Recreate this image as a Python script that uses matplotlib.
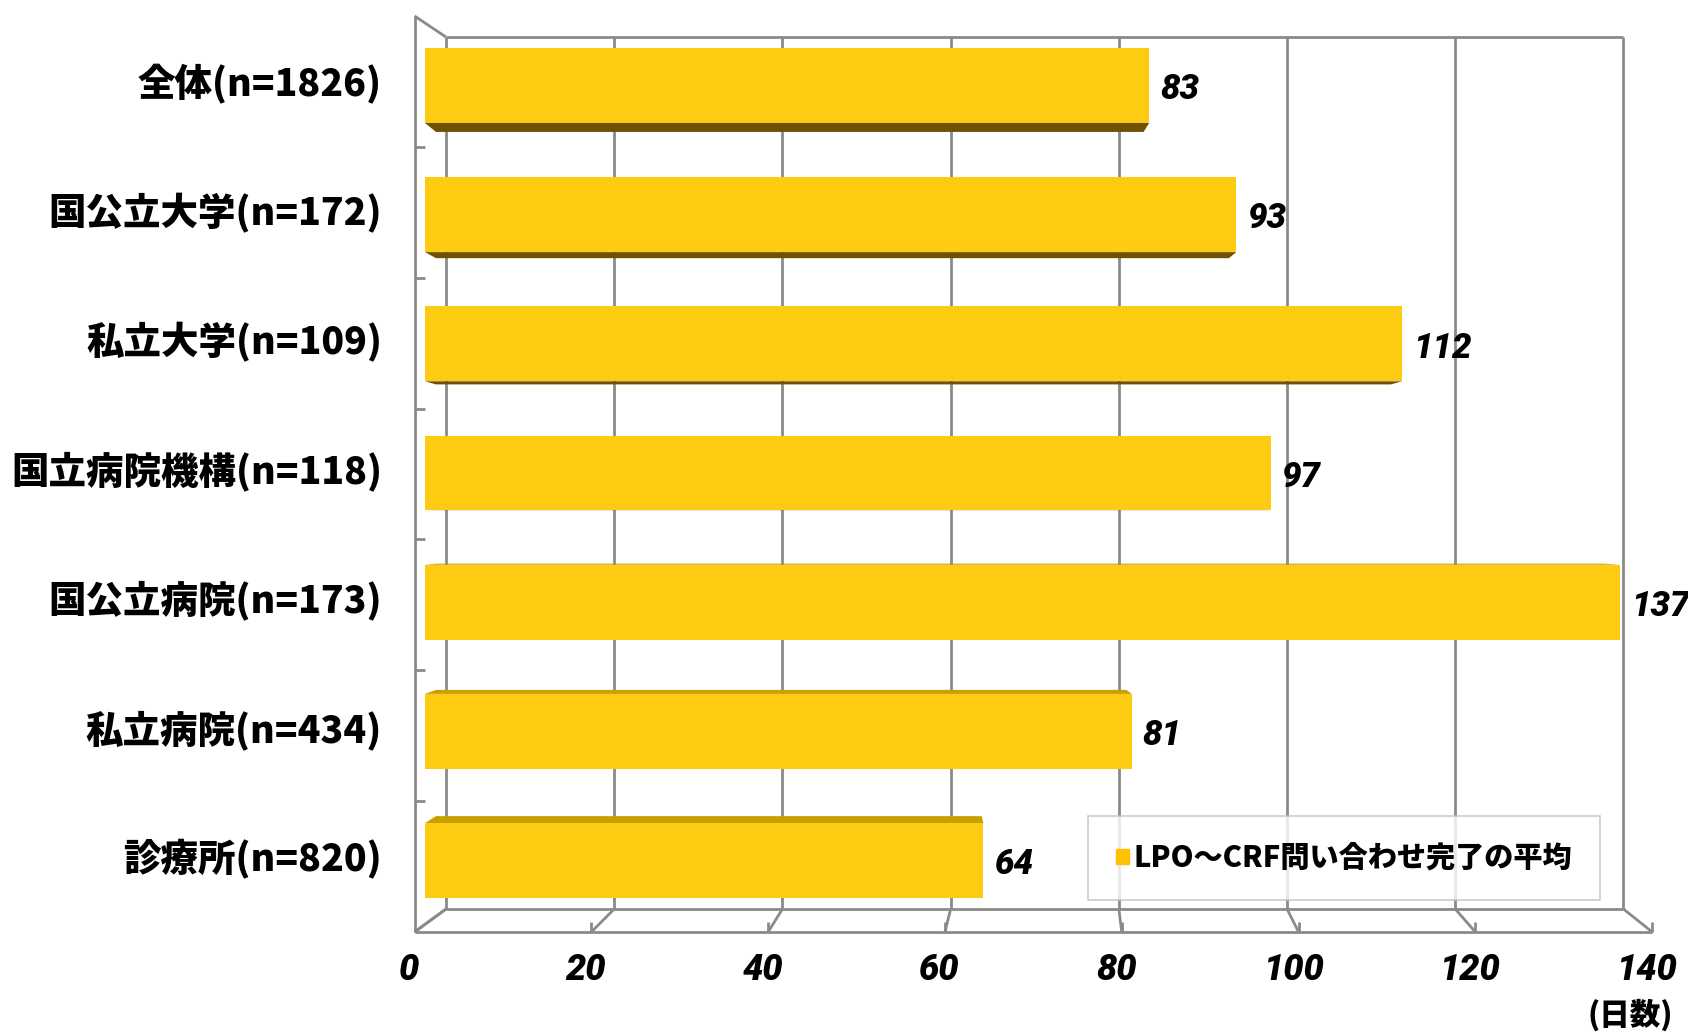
import matplotlib
matplotlib.use("Agg")
import matplotlib.pyplot as plt
from matplotlib.patches import Patch

# データ
categories = ["全体(n=1826)", "国公立大学(n=172)", "私立大学(n=109)", "国立病院機構(n=118)",
              "国公立病院(n=173)", "私立病院(n=434)", "診療所(n=820)"]
values = [83, 93, 112, 97, 137, 81, 64]
xticks = [0, 20, 40, 60, 80, 100, 120, 140]
legend_label = "LPO～CRF問い合わせ完了の平均"
unit_label = "(日数)"

CJK = ["Noto Sans CJK JP", "DejaVu Sans"]
NUM = ["Roboto", "DejaVu Sans"]
grid_c = "#8a8a8a"
bar_c = "#FDCB12"
under_c = "#6E5200"
top_c = "#C9A000"

W, H = 1688, 1032
fig = plt.figure(figsize=(W / 100, H / 100), dpi=100)
# 棒の前面 x: 0 -> 425px, 140 -> 1646px / 奥行き枠 16px..932px
ax = fig.add_axes([425 / W, (H - 932) / H, 1221.4 / W, 916 / H])
ax.set_xlim(0, 140)
ax.set_ylim(6.553, -0.538)
ax.axis("off")

# 3D枠（前面・背面の平面）
def front_x(v):
    return -1.2 + 1.0133 * v

def back_x(v):
    return 2.41 + 0.964 * v

yt_f, yb_f = -0.538, 6.553
yt_b, yb_b = -0.375, 6.375
lw = 2.0
kw = dict(color=grid_c, lw=lw, clip_on=False, zorder=1, solid_capstyle="butt")

# 背面の壁とグリッド
for v in xticks:
    ax.plot([back_x(v), back_x(v)], [yt_b, yb_b], **kw)
ax.plot([back_x(0), back_x(140)], [yt_b, yt_b], **kw)
ax.plot([back_x(0), back_x(140)], [yb_b, yb_b], **kw)
# 床
ax.plot([front_x(0), front_x(140)], [yb_f, yb_f], **kw)
for v in xticks:
    ax.plot([front_x(v), back_x(v)], [yb_f, yb_b], **kw)
    if v > 0:
        ax.plot([front_x(v), front_x(v)], [yb_f, yb_f - 0.08], **kw)
# 左の壁
ax.plot([front_x(0), front_x(0)], [yt_f, yb_f], **kw)
ax.plot([front_x(0), back_x(0)], [yt_f, yt_b], **kw)
ax.plot([front_x(0), back_x(0)], [yb_f, yb_b], **kw)
n = len(categories)
for k in range(1, n):
    yk = yt_f + k * (yb_f - yt_f) / n
    ax.plot([front_x(0), 0], [yk, yk], **kw)

# 棒
h = 0.58
bars = ax.barh(range(n), values, height=h, color=bar_c, zorder=3)
vp = (55.25, 3.34)
t = 0.0228
for i, (b, v) in enumerate(zip(bars, values)):
    y_top = i - h / 2
    y_bot = i + h / 2
    if y_bot < vp[1]:
        ye, c = y_bot, under_c
    else:
        ye, c = y_top, top_c
    x0, x1 = 0, v
    bx0 = x0 + t * (vp[0] - x0)
    bx1 = x1 + t * (vp[0] - x1)
    by = ye + t * (vp[1] - ye)
    ax.fill([x0, x1, bx1, bx0], [ye, ye, by, by], color=c, zorder=2, lw=0)
    ax.annotate(str(v), xy=(v, i), xytext=(8, -3), textcoords="offset points",
                ha="left", va="center", fontsize=25, fontweight="heavy",
                style="italic", family=NUM, zorder=5)
    ax.annotate(categories[i], xy=(0, i), xytext=(-31, 1), textcoords="offset points",
                ha="right", va="center", fontsize=27, fontweight="heavy",
                family=CJK, annotation_clip=False)

# x目盛ラベル
for v in xticks:
    ax.annotate(str(v), xy=(front_x(v), yb_f), xytext=(-4, -27), textcoords="offset points",
                ha="center", va="center", fontsize=26, fontweight="heavy",
                style="italic", family=NUM, annotation_clip=False)

fig.text(1630 / W, 1 - 1015 / H, unit_label, ha="center", va="center",
         fontsize=22, fontweight="heavy", family=CJK)

leg = ax.legend(handles=[Patch(color="#FFC000", label=legend_label)],
                loc="center", bbox_to_anchor=(1344 / W, 1 - 858 / H),
                bbox_transform=fig.transFigure, frameon=True, fancybox=False,
                handlelength=0.45, handleheight=0.45, handletextpad=0.15,
                borderpad=0.95, prop=dict(family=CJK, size=21, weight="heavy"))
leg.get_frame().set_edgecolor("#BFBFBF")
leg.get_frame().set_linewidth(1.2)
leg.set_zorder(6)

fig.savefig("out.png", dpi=100)
